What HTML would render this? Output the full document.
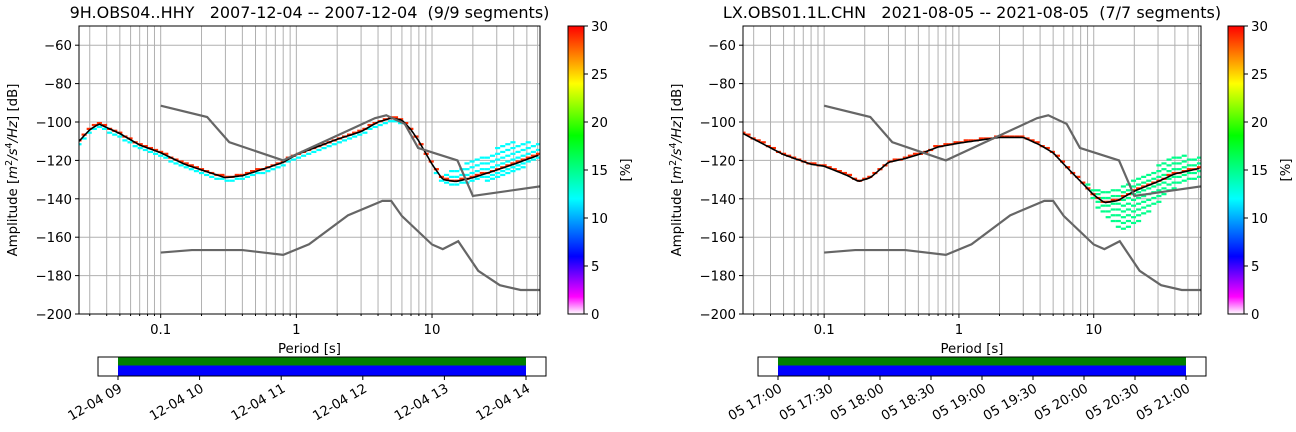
<!DOCTYPE html>
<html><head><meta charset="utf-8"><style>
html,body{margin:0;padding:0;background:#fff;}
svg{display:block;font-family:"DejaVu Sans","Liberation Sans",sans-serif;}
</style></head><body>
<svg id="root" width="1296" height="432" viewBox="0 0 1296 432">
<defs>
<linearGradient id="cmap" x1="0" y1="1" x2="0" y2="0">
<stop offset="0" stop-color="#ffffff"/><stop offset="0.06" stop-color="#ff00ff"/>
<stop offset="0.2" stop-color="#0000ff"/><stop offset="0.4" stop-color="#00ffff"/>
<stop offset="0.62" stop-color="#00ff00"/><stop offset="0.8" stop-color="#ffff00"/>
<stop offset="1" stop-color="#ff0000"/>
</linearGradient>
</defs>
</svg>
<script>
// Noise models
const nhnmPer=[0.1,0.22,0.32,0.8,3.8,4.6,6.3,7.9,15.4,20,354.8];
const nhnmDb=[-91.5,-97.4,-110.5,-120,-98,-96.5,-101,-113.5,-120,-138.5,-126];
const nlnmPer=[0.1,0.17,0.4,0.8,1.24,2.4,4.3,5,6,10,12,15.6,21.9,31.6,45,70];
const nlnmDb=[-168,-166.7,-166.7,-169.2,-163.7,-148.6,-141.1,-141.1,-149,-163.8,-166.2,-162.1,-177.5,-185,-187.5,-187.5];
// Left PPSD
const leftPer=[0.025,0.03,0.035,0.05,0.07,0.1,0.15,0.2,0.3,0.4,0.6,0.8,1,2,3,4,5,6,7,8,10,12,15,20,30,40,62.5];
const leftMode=[-110,-104,-101,-106,-112,-116,-122,-125,-129,-128,-124,-121,-117,-109,-105,-100,-98,-99,-104,-110,-122,-130,-131,-129,-125,-122,-117];
const leftSpreadUp=[1,1,1,1,1,1,1,1,1,1,1,1,1,1,1,1,1,1,1,1,1,2,7,9,11,11,6];
const leftSpreadDn=[2,2,2,2,2,2,2,2,2,2,2,2,2,2,2,2,2,2,1,1,2,3,3,3,5,5,3];
// Right PPSD
const rightPer=[0.025,0.05,0.08,0.1,0.15,0.18,0.22,0.3,0.4,0.5,0.7,1,2,3,4,5,6,8,10,12,15,20,30,40,62.5];
const rightMode=[-106,-117,-122,-123,-128,-131,-129,-121,-119,-117,-113,-111,-108,-108,-112,-116,-122,-131,-138,-142,-141,-136,-131,-127,-124];
const rightSpreadUp=[1,1,1,1,1,1,1,1,1,1,2,1,1,1,1,1,1,1,4,6,6,6,8,10,6];
const rightSpreadDn=[0,0,0,0,0,0,0,0,0,0,0,0,0,0,0,0,0,0,3,8,16,20,12,8,6];
// Timeline ticks
const leftTimeTicks=["12-04 09","12-04 10","12-04 11","12-04 12","12-04 13","12-04 14"];
const rightTimeTicks=["05 17:00","05 17:30","05 18:00","05 18:30","05 19:00","05 19:30","05 20:00","05 20:30","05 21:00"];
const yTicks=[-60,-80,-100,-120,-140,-160,-180,-200];
const cbTicks=[0,5,10,15,20,25,30];

const NS="http://www.w3.org/2000/svg";
const root=document.getElementById('root');
const FS=13.3;
function mk(tag,attrs,parent,text){const e=document.createElementNS(NS,tag);for(const k in attrs)e.setAttribute(k,attrs[k]);if(text!==undefined)e.textContent=text;(parent||root).appendChild(e);return e;}
function interp(xs,ys,x){const lx=Math.log10(x);for(let i=0;i<xs.length-1;i++){const a=Math.log10(xs[i]),b=Math.log10(xs[i+1]);if(lx>=a&&lx<=b){const t=(lx-a)/(b-a);return ys[i]+t*(ys[i+1]-ys[i]);}}return lx<Math.log10(xs[0])?ys[0]:ys[ys.length-1];}
function colorFor(p){const st=[[0,[255,255,255]],[1.8,[255,0,255]],[6,[0,0,255]],[12,[0,255,255]],[18.6,[0,255,0]],[24,[255,255,0]],[30,[255,0,0]]];p=Math.max(0,Math.min(30,p));for(let i=0;i<st.length-1;i++){if(p<=st[i+1][0]){const t=(p-st[i][0])/(st[i+1][0]-st[i][0]);const c=st[i][1].map((v,j)=>Math.round(v+t*(st[i+1][1][j]-v)));return `rgb(${c})`;}}return 'rgb(255,0,0)';}

function panel(cfg){
  const L=cfg.x0,R=cfg.x1,T=26,B=314;
  const pmin=0.025,pmax=62.5;
  const xs=p=>L+(Math.log10(p)-Math.log10(pmin))/(Math.log10(pmax)-Math.log10(pmin))*(R-L);
  const ys=d=>T+(-50-d)/150*(B-T);
  const g=mk('g',{});
  mk('defs',{},g).appendChild((()=>{const c=document.createElementNS(NS,'clipPath');c.setAttribute('id',cfg.name+'-clip');const r=document.createElementNS(NS,'rect');r.setAttribute('x',L);r.setAttribute('y',T);r.setAttribute('width',R-L);r.setAttribute('height',B-T);c.appendChild(r);return c;})());
  const grid=mk('g',{stroke:'#b0b0b0','stroke-width':1},g);
  for(let e=-2;e<=1;e++)for(let m=1;m<=9;m++){const p=m*Math.pow(10,e);if(p<pmin||p>pmax)continue;const x=xs(p);mk('line',{x1:x,x2:x,y1:T,y2:B},grid);}
  yTicks.forEach(v=>{const y=ys(v);mk('line',{x1:L,x2:R,y1:y,y2:y},grid);});
  const cells=mk('g',{'clip-path':`url(#${cfg.name}-clip)`},g);
  const f=Math.pow(2,1/8);
  const ch=ys(0)-ys(1);
  for(let p=pmin;p<pmax*f;p*=f){
    const x0=xs(p/Math.sqrt(f)),x1=xs(p*Math.sqrt(f));
    const m=Math.round(interp(cfg.per,cfg.mode,p));
    const up=interp(cfg.per,cfg.up,p),dn=interp(cfg.per,cfg.dn,p);
    const c=mk('rect',{x:x0,y:ys(m+1),width:x1-x0,height:ch+0.3,fill:colorFor(cfg.peak)},cells);
    
    
    for(let d=2;d<=up+0.01;d+=(up>5?3:2)){const r=mk('rect',{x:x0,y:ys(m+d+1),width:x1-x0,height:ch+0.3,fill:colorFor(cfg.spreadP)},cells);}
    for(let d=2;d<=dn+0.01;d+=(dn>5?3:2)){const r=mk('rect',{x:x0,y:ys(m-d+1),width:x1-x0,height:ch+0.3,fill:colorFor(cfg.spreadP)},cells);}
  }
  let dpts=[];for(let p=pmin;p<=pmax*1.001;p*=Math.pow(2,1/16)){dpts.push(xs(p).toFixed(1)+','+ys(interp(cfg.per,cfg.mode,p)).toFixed(1));}
  mk('polyline',{points:dpts.join(' '),fill:'none',stroke:'#000','stroke-width':1.6,'clip-path':`url(#${cfg.name}-clip)`},g);
  mk('polyline',{points:nhnmPer.map((p,i)=>xs(p)+','+ys(nhnmDb[i])).join(' '),fill:'none',stroke:'#666','stroke-width':2.2,'clip-path':`url(#${cfg.name}-clip)`},g);
  mk('polyline',{points:nlnmPer.map((p,i)=>xs(p)+','+ys(nlnmDb[i])).join(' '),fill:'none',stroke:'#666','stroke-width':2.2,'clip-path':`url(#${cfg.name}-clip)`},g);
  mk('rect',{x:L,y:T,width:R-L,height:B-T,fill:'none',stroke:'#000','stroke-width':1,},g);
  yTicks.forEach(v=>{const y=ys(v);mk('line',{x1:L-4,x2:L,y1:y,y2:y,stroke:'#000'},g);const t=mk('text',{x:L-7,y:y+5,'text-anchor':'end','font-size':FS},g,'\u2212'+Math.abs(v));});
  for(let e=-2;e<=1;e++)for(let m=1;m<=9;m++){const p=m*Math.pow(10,e);if(p<pmin||p>pmax)continue;const x=xs(p);mk('line',{x1:x,x2:x,y1:B,y2:B+(m===1?4:2),stroke:'#000'},g);}
  [[0.1,'0.1'],[1,'1'],[10,'10']].forEach(([p,s])=>{const t=mk('text',{x:xs(p),y:B+20,'text-anchor':'middle','font-size':FS},g,s);});
  mk('text',{x:(L+R)/2,y:353,'text-anchor':'middle','font-size':FS,},g,'Period [s]');
  const yl=mk('text',{x:0,y:0,'text-anchor':'middle','font-size':FS,transform:`translate(${L-62},${(T+B)/2}) rotate(-90)`,},g);
  yl.innerHTML='Amplitude [<tspan font-style="italic">m</tspan><tspan dy="-5" font-size="9.5">2</tspan><tspan dy="5" font-style="italic">/s</tspan><tspan dy="-5" font-size="9.5">4</tspan><tspan dy="5" font-style="italic">/Hz</tspan>] [dB]';
  mk('text',{x:(L+R)/2,y:18,'text-anchor':'middle','font-size':16,style:'white-space:pre',},g,cfg.title);
  const cx=cfg.cbx;
  mk('rect',{x:cx,y:T,width:16,height:B-T,fill:'url(#cmap)',stroke:'#000','stroke-width':1,},g);
  cbTicks.forEach(v=>{const y=B-v/30*(B-T);mk('line',{x1:cx+16,x2:cx+20,y1:y,y2:y,stroke:'#000'},g);const t=mk('text',{x:cx+23,y:y+5,'font-size':FS},g,String(v));});
  mk('text',{x:0,y:0,'text-anchor':'middle','font-size':FS,transform:`translate(${cx+62},${(T+B)/2}) rotate(-90)`,},g,'[%]');
  const tb=mk('g',{},g);
  mk('rect',{x:cfg.tl0,y:357,width:cfg.tl1-cfg.tl0,height:19,fill:'#fff',stroke:'#000'},tb);
  mk('rect',{x:cfg.tt[0],y:357.5,width:cfg.tt[1]-cfg.tt[0],height:8,fill:'#008000'},tb);
  mk('rect',{x:cfg.tt[0],y:365.5,width:cfg.tt[1]-cfg.tt[0],height:10,fill:'#0000ff'},tb);
  mk('rect',{x:cfg.tl0,y:357,width:cfg.tl1-cfg.tl0,height:19,fill:'none',stroke:'#000'},tb);
  cfg.ticks.forEach((s,i)=>{const x=cfg.tt[0]+i*cfg.tstep;mk('line',{x1:x,x2:x,y1:376,y2:380,stroke:'#000'},tb);const t=mk('text',{x:0,y:0,'text-anchor':'end','font-size':FS,transform:`translate(${x+5},${391}) rotate(-30)`},tb,s);});
}
panel({name:'left',x0:79,x1:540,cbx:568,per:leftPer,mode:leftMode,up:leftSpreadUp,dn:leftSpreadDn,peak:29,spreadP:12,
  title:'9H.OBS04..HHY   2007-12-04 -- 2007-12-04  (9/9 segments)',tl0:98,tl1:546,tt:[118,526],tstep:81.6,ticks:leftTimeTicks});
panel({name:'right',x0:743,x1:1201,cbx:1228,per:rightPer,mode:rightMode,up:rightSpreadUp,dn:rightSpreadDn,peak:29,spreadP:15,
  title:'LX.OBS01.1L.CHN   2021-08-05 -- 2021-08-05  (7/7 segments)',tl0:758,tl1:1206,tt:[778,1186],tstep:51,ticks:rightTimeTicks});
</script>
</body></html>
